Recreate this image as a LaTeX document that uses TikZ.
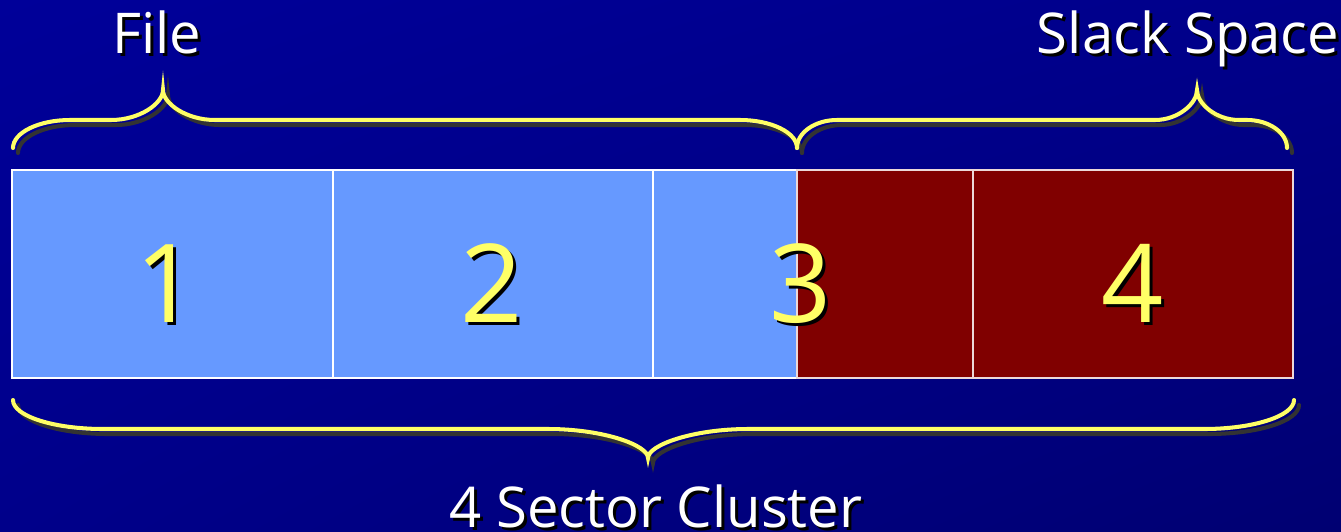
\documentclass[tikz,border=0pt]{standalone}
\usepackage{fontspec}
\setmainfont{Open Sans}
\usetikzlibrary{positioning,calc,shadings}
\definecolor{bgtop}{HTML}{000099}
\definecolor{bgmid}{HTML}{00008A}
\definecolor{bgbot}{HTML}{000072}
\definecolor{used}{HTML}{6699FF}
\definecolor{slack}{HTML}{800000}
\definecolor{gold}{HTML}{FFFF66}
\definecolor{shadow}{HTML}{333333}
\tikzset{
  cell/.style={draw=white, line width=1.1pt, inner sep=0pt, outer sep=0pt,
               minimum height=4.16cm},
  usedcell/.style={cell, fill=used},
  slackcell/.style={cell, fill=slack, draw=white!85!slack},
  digit/.style={font=\fontsize{62}{62}\selectfont, text=gold, anchor=base, inner sep=0pt},
  digitsh/.style={digit, text=black},
  lbl/.style={font=\fontsize{32}{32}\selectfont, text=white, anchor=base, inner sep=0pt},
  lblsh/.style={lbl, text=black},
  bracepen/.style={draw=gold, line width=2.3pt, line cap=round},
  braceshade/.style={bracepen, draw=shadow}
}
% x0, x1, tip x, end y, flat y, tip y, end span, tip span
\newcommand{\drawbrace}[8]{%
  \foreach \sty/\off in {braceshade/5,bracepen/0}
    \draw[\sty, shift={(\off,\off)}]
      (#1,#4) .. controls (#1,{#4+0.55*(#5-#4)}) and ({#1+0.45*#7},#5) .. ({#1+#7},#5)
      -- ({#3-#8},#5) .. controls ({#3-0.45*#8},#5) and (#3,{#5+0.55*(#6-#5)}) .. (#3,#6)
      .. controls (#3,{#5+0.55*(#6-#5)}) and ({#3+0.45*#8},#5) .. ({#3+#8},#5)
      -- ({#2-#7},#5) .. controls ({#2-0.45*#7},#5) and (#2,{#4+0.55*(#5-#4)}) .. (#2,#4);
}
\begin{document}
\begin{tikzpicture}[x=0.02cm,y=-0.02cm]
  \useasboundingbox (0,0) rectangle (1341,531);
  \clip (0,0) rectangle (1341,531);
  \shade[upper left=bgtop, upper right=bgmid, lower left=bgmid, lower right=bgbot]
    (0,0) rectangle (1341,531);

  % sectors
  \node[usedcell, minimum width=6.42cm, anchor=north west] (s1) at (12,170) {};
  \node[usedcell, minimum width=6.40cm, right=0pt of s1] (s2) {};
  \node[usedcell, minimum width=2.88cm, right=0pt of s2] (s3a) {};
  \node[slackcell, minimum width=3.52cm, right=0pt of s3a] (s3b) {};
  \node[slackcell, minimum width=6.40cm, right=0pt of s3b] (s4) {};

  \foreach \n/\x in {1/167,2/492,3/801,4/1133} {
    \node[digitsh] at (\x+3,325) {\n};
    \node[digit] (d\n) at (\x,322) {\n};
  }

  % braces
  \drawbrace{13}{797}{163}{148}{120}{90}{57}{52}
  \drawbrace{797}{1287}{1197}{148}{120}{90}{40}{42}
  \drawbrace{13}{1294}{648}{400}{429}{458}{90}{100}

  \node[lblsh] at (160,56) {File};
  \node[lbl] (file) at (157,53) {File};
  \node[lblsh] at (1191,56) {Slack Space};
  \node[lbl] (slackl) at (1188,53) {Slack Space};
  \node[lblsh] at (659,530) {4 Sector Cluster};
  \node[lbl] (cluster) at (656,527) {4 Sector Cluster};
\end{tikzpicture}
\end{document}
